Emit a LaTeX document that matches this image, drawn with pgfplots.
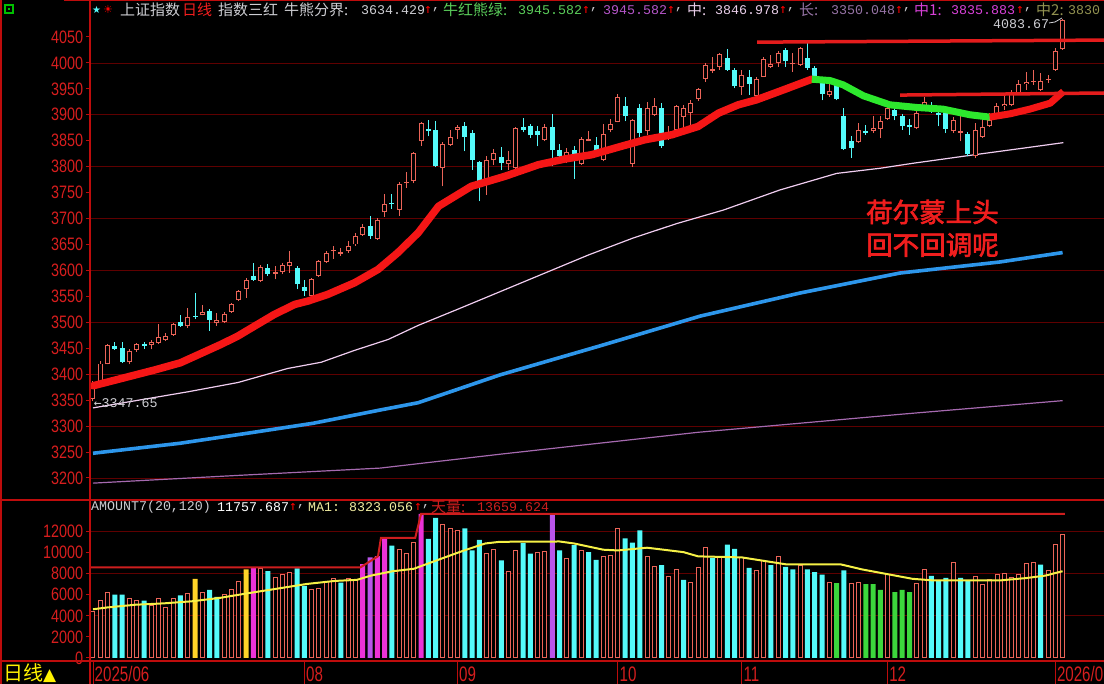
\documentclass[border=0pt]{standalone}
\usepackage{pgfplots}
\pgfplotsset{compat=1.18}
\usepackage{pgfplotstable}
\usepackage{fontspec}
\setmainfont{Liberation Sans}
\newfontfamily\cjk{Noto Sans CJK SC}
\newfontfamily\cjkb[FakeBold=2.5]{Noto Sans CJK SC}
\newfontfamily\mono{Liberation Mono}
\newfontfamily\djm{DejaVu Sans Mono}
\newfontfamily\dejavu{DejaVu Sans}

\definecolor{cRed}{RGB}{235,100,88}
\definecolor{cCyan}{RGB}{84,250,250}
\definecolor{maRed}{RGB}{245,22,22}
\definecolor{maGreen}{RGB}{45,232,45}
\definecolor{pinkL}{RGB}{240,205,240}
\definecolor{blueL}{RGB}{45,150,235}
\definecolor{purpL}{RGB}{165,105,175}
\definecolor{hLine}{RGB}{228,28,28}
\definecolor{gridR}{RGB}{95,0,0}
\definecolor{axisR}{RGB}{190,12,12}
\definecolor{lblR}{RGB}{215,30,30}
\definecolor{volY}{RGB}{255,212,40}
\definecolor{volM}{RGB}{235,50,215}
\definecolor{volP}{RGB}{185,85,235}
\definecolor{volG}{RGB}{60,215,60}
\definecolor{maY}{RGB}{245,240,70}
\definecolor{stepR}{RGB}{205,30,30}
\definecolor{txtG}{RGB}{205,205,210}
\definecolor{txtGreen}{RGB}{90,205,90}
\definecolor{txtPurp}{RGB}{180,85,200}
\definecolor{txtPink}{RGB}{232,205,232}
\definecolor{txtGP}{RGB}{150,115,165}
\definecolor{txtMag}{RGB}{215,65,215}
\definecolor{txtOl}{RGB}{145,145,80}
\definecolor{txtYl}{RGB}{240,235,160}
\definecolor{annR}{RGB}{240,30,30}

% i open high low close volume volcolour(0 red,1 cyan,2 yellow,3 magenta,4 violet,5 green)
\pgfplotstableread{
i o h l c v k
0 3352 3387 3347.65 3381.6 4400 0
1 3381 3425 3379 3420.6 5450 0
2 3419 3459 3419 3456 6200 0
3 3455 3462 3446.8 3448.5 6000 1
4 3451 3462.8 3421.2 3424.2 6000 1
5 3423 3449.4 3419 3444.4 5600 0
6 3447 3460.9 3443 3457.8 5500 0
7 3459 3463 3449.4 3454.8 5450 1
8 3457 3465.4 3448 3461.2 4950 0
9 3461 3497.4 3457.7 3472.3 5600 0
10 3466 3478.8 3463.5 3473.1 4800 0
11 3476 3499.4 3473.7 3497.5 5600 0
12 3501 3513.5 3491.7 3493.1 5950 1
13 3492 3528 3489.8 3509.7 6100 0
14 3513 3555.8 3505.8 3510.2 7500 2
15 3514 3532.7 3513.5 3519.7 6200 0
16 3522 3526.3 3483.3 3505 6450 1
17 3498 3517.3 3493 3503.8 5800 1
18 3501 3520.5 3499.4 3516.8 6000 0
19 3520 3537.8 3518.6 3534.5 6450 0
20 3543 3562.2 3541 3559.8 7300 0
21 3564 3585.9 3547.4 3581.9 8400 2
22 3590 3614.7 3579.5 3582.3 8550 3
23 3580 3610.3 3577.6 3605.7 8450 0
24 3605 3611.5 3589.1 3593.7 8250 1
25 3594 3608.3 3582.7 3597.9 7600 0
26 3597 3613.5 3592.3 3609.7 7900 0
27 3608 3637.2 3595.5 3615.7 8150 0
28 3605 3608.3 3563.5 3573.2 8500 1
29 3569 3581.4 3550.6 3560 6850 1
30 3551 3584.6 3547.4 3583.3 6450 0
31 3589 3619.9 3587.8 3617.6 6550 0
32 3616 3637.2 3614.7 3634 7300 0
33 3637 3648 3622.4 3639.7 7500 0
34 3632 3643.6 3627.6 3635.1 7150 1
35 3637 3656.4 3634 3647.6 7500 0
36 3650 3671.2 3648 3665.9 7400 0
37 3669 3689.7 3666 3683.5 8900 3
38 3685 3705.8 3660.9 3666.4 9550 4
39 3661 3701.3 3659.6 3696.8 9650 3
40 3712 3748 3703.2 3728 11400 3
41 3730 3748 3719.2 3727.3 10650 1
42 3717 3769.9 3704.5 3766.2 10250 0
43 3768 3790.4 3759 3771.1 9950 0
44 3772 3827.6 3768 3825.8 11000 0
45 3849 3885.2 3840.4 3883.6 13660 3
46 3873 3890.4 3858.3 3868.4 11300 1
47 3871 3888.4 3799 3800.4 13300 1
48 3797 3846.8 3762.2 3843.6 12700 0
49 3842 3869.8 3840.4 3857.9 12300 0
50 3871 3880.7 3853.2 3875.5 12100 0
51 3879 3885.9 3829.5 3858.1 12300 1
52 3864 3869.8 3794.2 3813.6 10200 1
53 3809 3810.2 3733.3 3765.9 11200 1
54 3765 3819.8 3746.1 3812.5 9900 0
55 3812 3834 3803.8 3826.8 10250 0
56 3818 3837.2 3792.9 3807.3 9250 1
57 3806 3829.5 3794.2 3812.2 8250 0
58 3797 3876.3 3795.5 3875.3 10150 0
59 3876 3893.6 3866 3870.6 10900 1
60 3879 3882.7 3855.1 3860.5 9900 1
61 3868 3878.8 3839.1 3861.9 10000 0
62 3852 3882.7 3848.7 3876.3 10100 0
63 3876 3901.9 3800.6 3831.7 13550 4
64 3833 3844.2 3816.6 3820.1 10200 1
65 3821 3835.9 3807 3828.6 9450 0
66 3833 3840.4 3776.3 3821.8 10700 1
67 3806 3857 3803.8 3853.6 10150 0
68 3850 3868 3848.7 3853.3 10050 1
69 3842 3857 3826.3 3828.1 9300 1
70 3813 3882.7 3810.2 3862.5 9650 0
71 3870 3891.6 3866 3882.8 9750 0
72 3887 3940.4 3885.2 3934 12250 0
73 3916 3934 3887.2 3897 11350 1
74 3806 3892.3 3799 3889.5 10950 1
75 3913 3921.1 3857 3865.2 12100 1
76 3868 3925.6 3861.5 3912.2 9650 0
77 3900 3932 3898 3916.2 8650 0
78 3913 3922.4 3835.9 3839.8 8800 1
79 3858 3877.5 3851.9 3863.9 7700 0
80 3871 3919.2 3868 3916.3 8400 0
81 3896 3919.2 3876.3 3913.8 7400 1
82 3903 3928.8 3876.3 3922.4 7200 0
83 3930 3952.5 3927.5 3950.3 8550 0
84 3969 3999.3 3964.1 3996.9 10450 0
85 3985 4012.2 3980.1 3988.2 9500 1
86 3992 4020 3986.5 4016.3 9550 0
87 4009 4026.3 3985.2 3986.9 10750 1
88 3986 3989.7 3951 3954.8 10350 1
89 3954.5 3986.5 3938.4 3976.5 9500 0
90 3973.7 3986.5 3938.4 3960.2 8550 1
91 3936.5 3973.7 3928.8 3969.3 8300 0
92 3973.7 4012.2 3972.4 4007.8 9200 0
93 3993 4015.4 3990 3997.6 8800 1
94 4000.6 4023.7 3993 4018.6 9650 0
95 4025 4028.2 3993 4002.8 8650 1
96 3997 4018.6 3983.3 4000.1 8400 1
97 3996 4031.4 3994.2 4029.5 8800 0
98 4009 4037.8 3986.5 3990.5 8400 1
99 3989.7 3994.2 3967.3 3972 8150 1
100 3962 3966 3927.6 3939.8 7900 1
101 3938 3967.3 3935.2 3946.7 7200 0
102 3959.6 3967.3 3927.6 3931 7100 5
103 3898 3912.8 3832 3834.9 8300 1
104 3850 3858.3 3816.7 3836.8 7100 0
105 3846.8 3883.9 3845.5 3870 7200 0
106 3869 3880.8 3861.5 3864.2 7000 5
107 3868 3896.8 3864.7 3875.3 7000 5
108 3872 3898 3855.1 3888.6 6450 5
109 3891.6 3920.5 3890.4 3914 7900 0
110 3909.6 3916 3889.1 3897.7 6250 5
111 3898 3901.9 3871.1 3878 6450 5
112 3880.8 3891.6 3861.5 3875.8 6250 5
113 3874.3 3909.6 3872.4 3902.8 7100 0
114 3909.6 3934 3908.3 3924.1 8400 0
115 3917 3923.7 3903.2 3909.5 7800 1
116 3902 3909.6 3877.6 3900.5 7350 1
117 3906.4 3909.6 3864.7 3873.3 7600 1
118 3867.9 3895.5 3864.7 3889.4 9050 0
119 3865.5 3898 3848.7 3867.9 7600 1
120 3863.4 3866 3819.9 3824.8 7300 1
121 3820 3883.9 3816.7 3870.3 7700 0
122 3858 3890.4 3855.1 3876.4 7000 0
123 3878.9 3903.2 3876.3 3890.5 7400 0
124 3900 3922.4 3898 3917.4 7900 0
125 3916 3938.4 3909.6 3920 8050 0
126 3919.2 3948 3916 3941 7650 0
127 3941.6 3967.3 3938.4 3959.6 7900 0
128 3959.6 3983.3 3948 3963.7 8950 0
129 3962.8 3986.5 3957.7 3965.3 9050 0
130 3948 3981.4 3946.8 3965.1 8850 1
131 3967.3 3976.9 3960.9 3968.8 8300 0
132 3986.5 4028.2 3985.2 4023.4 10750 0
133 4026 4083.67 4025 4083 11750 0
}\kdata

\pgfplotsset{
  tdx/.style={
    scale only axis, width=1014pt,
    xmin=-0.41, xmax=138.68,
    hide x axis, axis y line*=left,
    y axis line style={axisR, line width=1.5pt, -},
    ytick style={axisR, line width=1pt},
    major tick length=4pt, tick align=outside, ytick pos=left,
    yticklabel style={font=\fontsize{18}{18}\selectfont, text=lblR, xscale=0.8},
    scaled y ticks=false,
    /pgf/number format/1000 sep={},
    /pgf/number format/assume math mode=true,
    major grid style={gridR, line width=0.8pt},
    extra y tick labels={},
    extra y tick style={grid=major},
  },
}
\tikzset{hdr/.style={anchor=west, inner sep=0pt}}
\newcommand{\hc}[1]{{\cjk\fontsize{15}{15}\selectfont #1}}
\newcommand{\hm}[1]{{\mono\fontsize{13.3}{13.3}\selectfont #1}}
\newcommand{\ha}{{\djm\fontsize{13}{13}\selectfont ↑}}

\begin{document}
\begin{tikzpicture}[x=1pt,y=1pt]
\useasboundingbox (0,0) rectangle (1104,684);
\fill[black] (0,0) rectangle (1104,684);

% ---------------- price panel ----------------
\begin{axis}[tdx, at={(90pt,187pt)}, anchor=south west, height=494pt,
  ymin=3163.3, ymax=4115.5,
  ytick={3200,3250,...,4050},
  extra y ticks={3200,3300,...,4000}]
  \addplot[purpL, line width=1.2pt, mark=none] coordinates {(0,3190) (20,3205) (39.4,3219) (56,3246) (83,3288) (111,3323) (133,3349)};
  \addplot[blueL, line width=3.6pt, mark=none] coordinates {(0,3247.6) (11.9,3266.8) (21.1,3286) (30.2,3305.4) (39.4,3331) (44.6,3345) (55.8,3398.5) (69.5,3454.4) (83.3,3512) (97,3556.5) (110.7,3595) (124.4,3616.3) (133,3634.4)};
  \addplot[pinkL, line width=1.2pt, mark=none] coordinates {(0,3335) (13,3366) (19.9,3384) (26.7,3411) (31.3,3423) (35.9,3446) (40.5,3467) (44.6,3494) (50,3525) (56,3560) (62,3595) (68,3630) (74,3662) (80,3690) (86.5,3716.5) (94.2,3755) (102,3787) (108,3797) (112.5,3806.6) (121.7,3824.5) (128.5,3837.4) (133.1,3846.3)};
  \addplot[draw=none, mark=none, restrict expr to domain={\thisrow{c}-\thisrow{o}}{0:100000},
    error bars/.cd, y dir=plus, y explicit, error mark=none, error bar style={cRed, line width=1pt}]
    table[x=i, y=l, y error expr=\thisrow{h}-\thisrow{l}] {\kdata};
  \addplot[draw=none, mark=none, restrict expr to domain={\thisrow{c}-\thisrow{o}}{0:100000},
    error bars/.cd, y dir=plus, y explicit, error mark=none, error bar style={cRed, line width=5pt}]
    table[x=i, y=o, y error expr={max(\thisrow{c}-\thisrow{o},2)}] {\kdata};
  \addplot[draw=none, mark=none, restrict expr to domain={\thisrow{c}-\thisrow{o}}{4:100000},
    error bars/.cd, y dir=plus, y explicit, error mark=none, error bar style={black, line width=3pt}]
    table[x=i, y expr=\thisrow{o}+1.9, y error expr={\thisrow{c}-\thisrow{o}-3.8}] {\kdata};
  \addplot[draw=none, mark=none, restrict expr to domain={\thisrow{c}-\thisrow{o}}{-100000:-0.001},
    error bars/.cd, y dir=plus, y explicit, error mark=none, error bar style={cCyan, line width=1pt}]
    table[x=i, y=l, y error expr=\thisrow{h}-\thisrow{l}] {\kdata};
  \addplot[draw=none, mark=none, restrict expr to domain={\thisrow{c}-\thisrow{o}}{-100000:-0.001},
    error bars/.cd, y dir=plus, y explicit, error mark=none, error bar style={cCyan, line width=5pt}]
    table[x=i, y=c, y error expr={max(\thisrow{o}-\thisrow{c},2)}] {\kdata};
  \addplot[maRed, line width=7.5pt, mark=none, line join=round, line cap=round] coordinates {(0,3377.6) (3.9,3391.7) (8.5,3408.3) (12,3422) (17.6,3457.7) (19.9,3473.7) (22.2,3493) (24.9,3515.4) (27.7,3534.6) (29.5,3541) (32.2,3553.8) (35.9,3576.3) (39.1,3601.9) (41.8,3634) (44.6,3672.4) (47.4,3723.7) (51.9,3762.2) (56.5,3781.4) (61.1,3803.8) (64.7,3814.7) (68.4,3823) (72.1,3837.8) (75.7,3851.9) (79.4,3861.5) (83,3877.5) (85.8,3903.2) (88.5,3919.2) (91,3928.8) (94.7,3948) (98.6,3968.6)};
  \addplot[maGreen, line width=7pt, mark=none, line join=round] coordinates {(98.6,3968.6) (101.1,3966) (102.9,3957.7) (105.7,3936.5) (109.3,3919.2) (113,3914.1) (116.6,3910.9) (120.3,3900) (123,3895.5)};
  \addplot[maRed, line width=7pt, mark=none, line join=round] coordinates {(123,3895.5) (125.8,3901.9) (128.5,3910.9) (131.3,3922.4) (133.1,3944.9)};
  \addplot[hLine, line width=3.5pt, mark=none] coordinates {(91.1,4040) (138.7,4044)};
  \addplot[hLine, line width=3.5pt, mark=none] coordinates {(110.7,3938) (138.7,3942)};
  \node[anchor=west, inner sep=0pt, text=txtG] at (axis cs:0.1,3345) {{\djm\fontsize{13}{13}\selectfont ←}\hm{3347.65}};
\end{axis}

% ---------------- volume panel ----------------
\begin{axis}[tdx, at={(90pt,26pt)}, anchor=south west, height=161pt,
  ymin=0, ymax=15270,
  ytick={0,2000,...,12000},
  extra y ticks={4000,8000,12000}]
  \addplot[ybar, bar width=4pt, bar shift=0pt, draw=cRed, line width=1pt, fill=black,
    restrict expr to domain={\thisrow{k}}{0:0}] table[x=i, y=v] {\kdata};
  \addplot[ybar, bar width=5pt, bar shift=0pt, draw=none, fill=cCyan,
    restrict expr to domain={\thisrow{k}}{1:1}] table[x=i, y=v] {\kdata};
  \addplot[ybar, bar width=5pt, bar shift=0pt, draw=none, fill=volY,
    restrict expr to domain={\thisrow{k}}{2:2}] table[x=i, y=v] {\kdata};
  \addplot[ybar, bar width=5pt, bar shift=0pt, draw=none, fill=volM,
    restrict expr to domain={\thisrow{k}}{3:3}] table[x=i, y=v] {\kdata};
  \addplot[ybar, bar width=5pt, bar shift=0pt, draw=none, fill=volP,
    restrict expr to domain={\thisrow{k}}{4:4}] table[x=i, y=v] {\kdata};
  \addplot[ybar, bar width=5pt, bar shift=0pt, draw=none, fill=volG,
    restrict expr to domain={\thisrow{k}}{5:5}] table[x=i, y=v] {\kdata};
  \addplot[stepR, line width=2pt, mark=none] coordinates {(-0.41,8600) (36.7,8600) (39.1,9650) (39.5,11400) (44.2,11400) (45,13660) (133.3,13660)};
  \addplot[maY, line width=2pt, mark=none] coordinates {(0,4620) (1.9,4790) (5.8,5050) (9.7,5180) (13.6,5380) (17.5,5710) (21.5,6170) (25.4,6590) (29.3,7020) (33.2,7310) (36.2,7410) (38.1,7810) (41.1,8230) (44,8460) (47.9,9450) (50.9,10200) (53.8,10860) (55.8,11020) (64,11050) (66,10860) (70,10270) (72,10200) (76,10460) (81,10040) (83,9640) (89,9540) (95,8890) (102.5,8890) (105.5,8400) (112.4,7510) (115.4,7350) (124.3,7350) (128,7580) (130.6,7810) (133,8230)};
\end{axis}

% ---------------- frame ----------------
\draw[axisR, line width=1.5pt] (1,0) -- (1,684);
\draw[axisR, line width=1pt] (64,683.5) -- (1104,683.5);
\draw[axisR, line width=1.5pt] (0,184) -- (1104,184);
\draw[axisR, line width=1.5pt] (0,23) -- (1104,23);
\draw[axisR, line width=1.5pt] (90,0) -- (90,684);
\draw[green!75!black, line width=1.2pt] (5,671) rectangle (13,679);
\fill[green!75!black] (8,674) rectangle (10,676);

% ---------------- header line ----------------
\node[hdr, text=cCyan] at (92,674) {\dejavu\fontsize{10}{10}\selectfont ★};
\node[hdr, text=red] at (103,674) {\dejavu\fontsize{11}{11}\selectfont ☀};
\node[hdr, text=txtG] at (120,674) {\hc{上证指数}};
\node[hdr, text=annR] at (182,674) {\hc{日线}};
\node[hdr, text=txtG] at (218,674) {\hc{指数三红}};
\node[hdr, text=txtG] at (284,674) {\hc{牛熊分界:}};
\node[hdr, text=txtG] at (361,674) {\hm{3634.429}};
\node[hdr, text=red] at (424,674) {\ha};
\node[hdr, text=txtG] at (432,674) {\hm{,}};
\node[hdr, text=txtGreen] at (443,674) {\hc{牛红熊绿:}};
\node[hdr, text=txtGreen] at (518,674) {\hm{3945.582}};
\node[hdr, text=red] at (582,674) {\ha};
\node[hdr, text=txtG] at (590,674) {\hm{,}};
\node[hdr, text=txtPurp] at (603,674) {\hm{3945.582}};
\node[hdr, text=red] at (667,674) {\ha};
\node[hdr, text=txtG] at (675,674) {\hm{,}};
\node[hdr, text=txtPink] at (687,674) {\hc{中:}};
\node[hdr, text=txtPink] at (715,674) {\hm{3846.978}};
\node[hdr, text=red] at (779,674) {\ha};
\node[hdr, text=txtG] at (787,674) {\hm{,}};
\node[hdr, text=txtGP] at (799,674) {\hc{长:}};
\node[hdr, text=txtGP] at (831,674) {\hm{3350.048}};
\node[hdr, text=red] at (895,674) {\ha};
\node[hdr, text=txtG] at (903,674) {\hm{,}};
\node[hdr, text=txtMag] at (914,674) {\hc{中1:}};
\node[hdr, text=txtMag] at (951,674) {\hm{3835.883}};
\node[hdr, text=red] at (1016,674) {\ha};
\node[hdr, text=txtG] at (1024,674) {\hm{,}};
\node[hdr, text=txtOl] at (1036,674) {\hc{中2:}};
\node[hdr, text=txtOl] at (1068,674) {\hm{3830}};
\node[hdr, text=txtG] at (993,660) {\hm{4083.67}};
\draw[txtG, line width=0.8pt] (1049,661) -- (1055,662) -- (1062,666);

% ---------------- volume header ----------------
\node[hdr, text=txtG] at (91,177) {\hm{AMOUNT7(20,120)}};
\node[hdr, text=white] at (217,177) {\hm{11757.687}};
\node[hdr, text=red] at (289,177) {\ha};
\node[hdr, text=txtG] at (297,177) {\hm{,}};
\node[hdr, text=txtYl] at (308,177) {\hm{MA1:}};
\node[hdr, text=txtYl] at (349,177) {\hm{8323.056}};
\node[hdr, text=red] at (414,177) {\ha};
\node[hdr, text=txtG] at (422,177) {\hm{,}};
\node[hdr, text=stepR] at (431,177) {\hc{天量:}};
\node[hdr, text=stepR] at (477,177) {\hm{13659.624}};

% ---------------- annotation ----------------
\node[hdr, text=annR] at (866,472) {\cjkb\fontsize{26.5}{26.5}\selectfont 荷尔蒙上头};
\node[hdr, text=annR] at (866,439) {\cjkb\fontsize{26.5}{26.5}\selectfont 回不回调呢};

% ---------------- date axis ----------------
\foreach \xx/\lab in {93/{2025/06}, 304.4/{08}, 457.5/{09}, 617.9/{10}, 741.8/{11}, 887.6/{12}, 1055.3/{2026/01}}{
  \draw[axisR, line width=1pt] (\xx,0) -- (\xx,23);
  \node[anchor=west, inner sep=0pt, text=lblR] at (\xx+1.5,10) {\scalebox{0.72}[1]{\fontsize{21}{21}\selectfont \lab}};
}
\node[anchor=west, inner sep=0pt, text=yellow] at (3,11) {\cjk\fontsize{20}{20}\selectfont 日线{\dejavu\fontsize{17}{17}\selectfont ▲}};
\end{tikzpicture}
\end{document}
